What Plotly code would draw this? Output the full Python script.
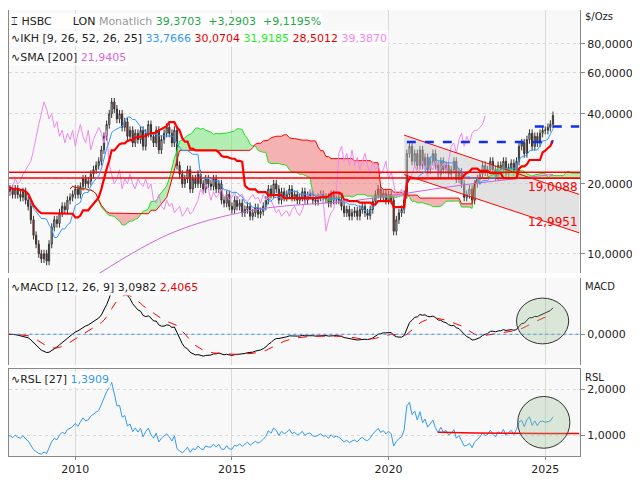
import numpy as np
import pandas as pd
import plotly.graph_objects as go

# monthly closes, Sep 2007 .. Apr 2025
closes = [
    19, 20, 18.5, 19,
    18, 19, 18, 17.5, 18.5, 17, 16, 14, 12, 11, 10, 9.5,
    10, 9.3, 11, 13, 14, 13.5, 15, 16, 15.5, 17, 17.5, 18,
    19, 18, 19.5, 21, 20, 20.5, 22, 23, 24, 25, 28, 32,
    36, 40, 45, 42, 38, 40, 35, 37, 32, 34, 30, 33,
    31, 34, 29, 33, 36, 32, 30, 34, 28, 31, 33, 35,
    33, 30, 34, 24, 22, 20, 21, 23, 19, 21, 20, 22,
    20, 19, 21, 20, 19.5, 21, 19, 20, 17, 16.5, 18, 16,
    15.5, 17, 16, 16.5, 15, 15.5, 16, 14.5, 15, 15.8, 14.8, 15.2,
    16, 17, 19, 18, 20, 19, 17, 18.5, 17.5, 18, 19, 17.5,
    18, 17, 17.5, 18.5, 17, 17.8, 18, 17, 16.8, 17.5, 18, 17.2,
    17.5, 16.5, 18, 17, 17.5, 17, 16, 15, 15.5, 14.5, 15, 15.3,
    14.5, 15.5, 16, 15, 14.6, 15.5, 16.8, 18, 19, 17.5, 18.2, 17,
    18, 17, 12.5, 14, 15, 15.5, 18, 27, 29, 25, 27, 24,
    28, 24, 26, 23, 25, 27, 24, 22, 25, 23, 24, 22,
    23, 25, 21, 22.5, 20, 17.5, 18, 19, 17, 20, 21, 22,
    24, 22.5, 23, 25, 23, 21.5, 24, 23, 25, 22, 23.5, 24.5,
    22.5, 25, 29, 30, 27, 31, 33, 29, 32, 30, 33, 34,
    34, 35, 36.08, 39.37,
]
wick = 0.04  # relative wick length

# 200-period SMA, read at a few points
sma_dates = ["2010-10", "2013-02", "2015-09", "2019-01", "2022-03", "2025-04"]
sma_vals = [8.2, 12.3, 15.4, 17.0, 19.6, 21.94]

# support lines / trend channel / resistance
hlines = [22.4, 21.2]
chan_x = ["2020-07", "2026-02"]
chan_up = [32.4, 18.0]
chan_lo = [21.9, 12.3]
res1_x, res1_y = ["2020-08", "2025-04"], 30.3
res2_x, res2_y = ["2024-09", "2026-02"], 35.3
rsl_line_x = ["2021-08", "2022-10", "2025-01", "2026-02"]
rsl_line_y = [1.07, 1.05, 1.04, 1.04]

dates = pd.date_range("2007-09-01", periods=len(closes), freq="MS")
c = pd.Series(closes, index=dates, dtype=float)
o = c.shift(1).fillna(c.iloc[0])
hi = np.maximum(o, c) * (1 + wick)
lo = np.minimum(o, c) * (1 - wick)

# Ichimoku 9/26/52, displacement 26
def mid(n):
    return (hi.rolling(n, min_periods=1).max() + lo.rolling(n, min_periods=1).min()) / 2

tenkan = mid(9)
kijun = mid(26)
fut = pd.date_range(dates[0], periods=len(closes) + 26, freq="MS")
spanA = pd.Series(np.r_[[np.nan] * 26, ((tenkan + kijun) / 2).values], index=fut)
spanB = pd.Series(np.r_[[np.nan] * 26, mid(52).values], index=fut)
chikou = pd.Series(c.values[26:], index=dates[:-26])

# MACD 12/26/9, RSL 27
macd = c.ewm(span=12, adjust=False).mean() - c.ewm(span=26, adjust=False).mean()
signal = macd.ewm(span=9, adjust=False).mean()
rsl = c / c.rolling(27, min_periods=1).mean()

fig = go.Figure()

# trend channel
fig.add_trace(go.Scatter(x=chan_x + chan_x[::-1], y=chan_up + chan_lo[::-1], mode="lines", fill="toself",
                         fillcolor="rgba(200,200,200,0.45)", line=dict(width=0), hoverinfo="skip"))

# cloud fill split by sign
sa, sb = spanA.values, spanB.values
valid = ~np.isnan(sa) & ~np.isnan(sb)
i = 0
n = len(fut)
while i < n:
    if not valid[i]:
        i += 1
        continue
    up = sa[i] >= sb[i]
    j = i
    while j + 1 < n and valid[j + 1] and (sa[j + 1] >= sb[j + 1]) == up:
        j += 1
    k = j + 1 if j + 1 < n and valid[j + 1] else j
    xs = fut[i:k + 1]
    col = "rgba(120,230,120,0.55)" if up else "rgba(240,120,120,0.55)"
    fig.add_trace(go.Scatter(x=xs, y=sb[i:k + 1], mode="lines", line=dict(width=0), hoverinfo="skip"))
    fig.add_trace(go.Scatter(x=xs, y=sa[i:k + 1], mode="lines", line=dict(width=0), fill="tonexty",
                             fillcolor=col, hoverinfo="skip"))
    i = j + 1

fig.add_trace(go.Scatter(x=fut, y=spanA, mode="lines", line=dict(color="#22dd22", width=1)))
fig.add_trace(go.Scatter(x=fut, y=spanB, mode="lines", line=dict(color="#ff0000", width=1)))
fig.add_trace(go.Scatter(x=chikou.index, y=chikou, mode="lines", line=dict(color="#ee88ee", width=1)))
fig.add_trace(go.Scatter(x=pd.to_datetime(sma_dates), y=sma_vals, mode="lines",
                         line=dict(color="#cc66dd", width=1, shape="spline")))

for h in hlines:
    fig.add_trace(go.Scatter(x=["2007-08", "2026-03"], y=[h, h], mode="lines", line=dict(color="red", width=1.5)))
fig.add_trace(go.Scatter(x=chan_x, y=chan_up, mode="lines", line=dict(color="red", width=1)))
fig.add_trace(go.Scatter(x=chan_x, y=chan_lo, mode="lines", line=dict(color="red", width=1)))

fig.add_trace(go.Candlestick(x=dates, open=o, high=hi, low=lo, close=c,
                             increasing=dict(line=dict(color="#333333", width=1), fillcolor="white"),
                             decreasing=dict(line=dict(color="#333333", width=1), fillcolor="#dd2222"),
                             whiskerwidth=0))
fig.add_trace(go.Scatter(x=dates, y=tenkan, mode="lines", line=dict(color="#3399ff", width=1)))
fig.add_trace(go.Scatter(x=dates, y=kijun, mode="lines", line=dict(color="#ff0000", width=2.2)))
fig.add_trace(go.Scatter(x=res1_x, y=[res1_y] * 2, mode="lines", line=dict(color="#1030ee", width=2.5, dash="dash")))
fig.add_trace(go.Scatter(x=res2_x, y=[res2_y] * 2, mode="lines", line=dict(color="#1030ee", width=2.5, dash="dash")))

# MACD
fig.add_trace(go.Scatter(x=dates, y=macd, mode="lines", line=dict(color="black", width=1), yaxis="y2"))
fig.add_trace(go.Scatter(x=dates, y=signal, mode="lines", line=dict(color="red", width=1, dash="dash"), yaxis="y2"))
fig.add_trace(go.Scatter(x=["2007-08", "2026-03"], y=[0, 0], mode="lines",
                         line=dict(color="#3388ee", width=1, dash="dot"), yaxis="y2"))

# RSL
fig.add_trace(go.Scatter(x=dates, y=rsl, mode="lines", line=dict(color="#3399ee", width=1), yaxis="y3"))
fig.add_trace(go.Scatter(x=rsl_line_x, y=rsl_line_y, mode="lines", line=dict(color="red", width=1.5), yaxis="y3"))

mmin, mmax = float(macd.min()), float(macd.max())
pad = (mmax - mmin) * 0.12
xr = ["2007-11-20", "2026-02-10"]
grid = dict(showgrid=True, gridcolor="#d8d8d8", griddash="dot", zeroline=False, side="right",
            showline=True, linecolor="#888", mirror=True, ticks="outside", ticklen=4, tickcolor="#888")
tick_p = [10, 20, 40, 60, 80]
fig.update_layout(
    width=640, height=480, showlegend=False,
    margin=dict(l=1, r=68, t=2, b=32),
    paper_bgcolor="white", plot_bgcolor="#f8f8f8",
    font=dict(family="DejaVu Sans", size=11, color="#222"),
    xaxis=dict(range=xr, domain=[0, 1], anchor="y3", rangeslider=dict(visible=False),
               tickvals=["2010-01-01", "2015-01-01", "2020-01-01", "2025-01-01"],
               ticktext=["2010", "2015", "2020", "2025"], showgrid=True, gridcolor="#d8d8d8",
               showline=True, linecolor="#888", mirror=True, ticks="outside", ticklen=3, tickcolor="#888"),
    yaxis=dict(type="log", domain=[0.41, 1], range=[np.log10(8.25), np.log10(112)],
               tickvals=tick_p, ticktext=[f"{v},0000" for v in tick_p], **grid),
    yaxis2=dict(domain=[0.205, 0.4], range=[mmin - pad, mmax + pad], anchor="x",
                tickvals=[0], ticktext=["0,0000"], **grid),
    yaxis3=dict(domain=[0, 0.195], range=[0.55, 2.45], anchor="x",
                tickvals=[1, 2], ticktext=["1,0000", "2,0000"], **grid),
)

ell = dict(type="circle", xref="x", fillcolor="rgba(150,190,140,0.3)", line=dict(color="#333", width=1))
fig.add_shape(**ell, yref="y2", x0="2024-02-01", x1="2025-10-01", y0=-0.2 * mmax, y1=0.75 * mmax)
fig.add_shape(**ell, yref="y3", x0="2024-02-15", x1="2025-10-15", y0=0.72, y1=1.85)

ann = []
def label(x, y, text, size=11, bg="rgba(255,255,255,0.85)"):
    ann.append(dict(xref="paper", yref="paper", x=x, y=y, text=text, showarrow=False,
                    xanchor="left", yanchor="middle", bgcolor=bg, font=dict(size=size)))

label(0.0, 0.975, "⌶ HSBC      LON <span style='color:#999'>Monatlich</span> "
      "<span style='color:#22aa44'>39,3703  +3,2903  +9,1195%</span>")
label(0.0, 0.935, "∿IKH [9, 26, 52, 26, 25] <span style='color:#3399ff'>33,7666</span> "
      "<span style='color:#ee0000'>30,0704</span> <span style='color:#22ee22'>31,9185</span> "
      "<span style='color:#ee0000'>28,5012</span> <span style='color:#ee88ee'>39,3870</span>")
label(0.0, 0.894, "∿SMA [200] <span style='color:#dd66dd'>21,9405</span>")
label(0.0, 0.377, "∿MACD [12, 26, 9] 3,0982 <span style='color:#ee0000'>2,4065</span>")
label(0.0, 0.172, "∿RSL [27] <span style='color:#3399ee'>1,3909</span>")
label(1.005, 0.985, "$/Ozs", size=10, bg="rgba(0,0,0,0)")
label(1.005, 0.38, "MACD", size=10, bg="rgba(0,0,0,0)")
label(1.005, 0.175, "RSL", size=10, bg="rgba(0,0,0,0)")
ann.append(dict(xref="x", yref="y", x="2025-04-01", y=np.log10(19.3), text="19,0088", showarrow=False,
                font=dict(color="red", size=12), xanchor="center", yanchor="middle"))
ann.append(dict(xref="x", yref="y", x="2025-04-01", y=np.log10(13.7), text="12,9951", showarrow=False,
                font=dict(color="red", size=12), xanchor="center", yanchor="middle"))
fig.update_layout(annotations=ann)

fig.write_html("out.html")
